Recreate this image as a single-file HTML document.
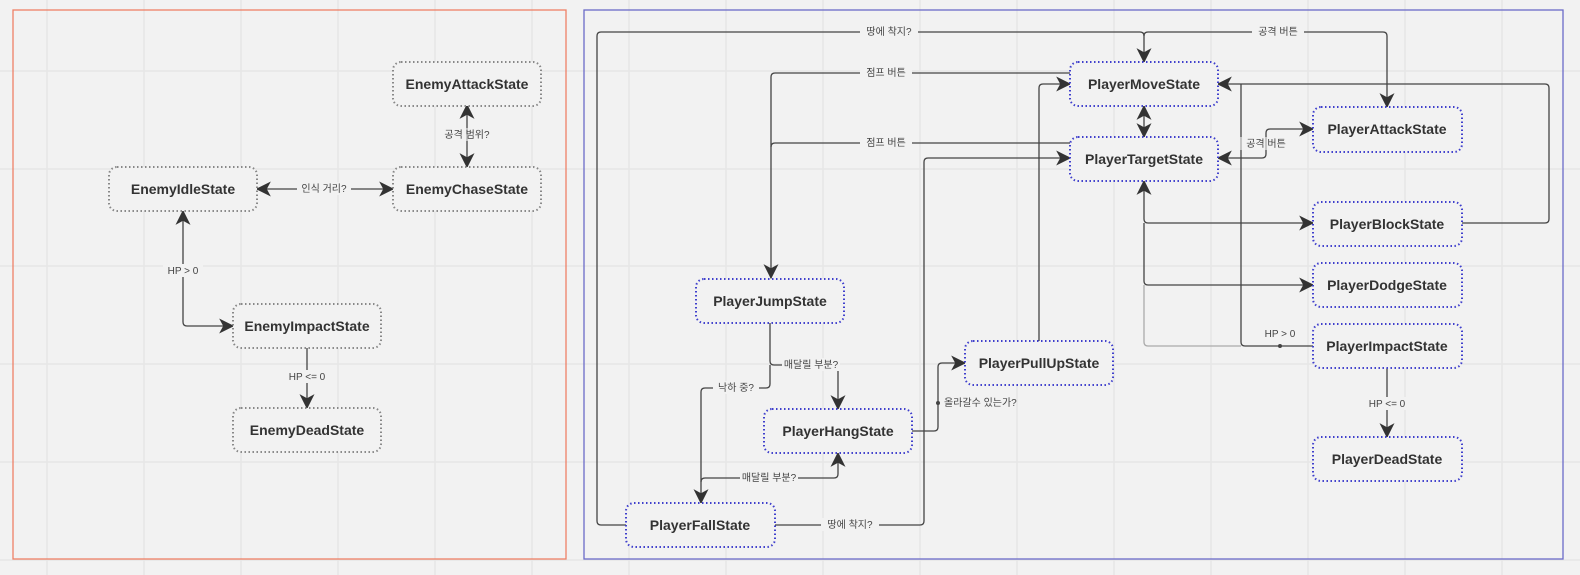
<!DOCTYPE html>
<html><head><meta charset="utf-8"><style>
html,body{margin:0;padding:0;background:#f2f2f2;}
svg{display:block;}
.n{font-family:"Liberation Sans","Noto Sans CJK KR",sans-serif;font-weight:bold;font-size:14px;fill:#333;}
.l{font-family:"Liberation Sans","Noto Sans CJK KR",sans-serif;font-size:10px;fill:#444;}
.e{fill:none;stroke:#444;stroke-width:1.3;stroke-linejoin:round;}
.pb{fill:#f2f2f2;stroke:#3f3fcc;stroke-width:2;stroke-dasharray:1.5 2.5;}
.eb{fill:#f2f2f2;stroke:#888;stroke-width:2;stroke-dasharray:1.5 2.5;}
</style></head><body>
<svg width="1580" height="575" viewBox="0 0 1580 575" xmlns="http://www.w3.org/2000/svg">
<defs>
<marker id="a" markerUnits="userSpaceOnUse" markerWidth="15" markerHeight="15" refX="12" refY="6.5" orient="auto-start-reverse" viewBox="0 0 13 13">
<path d="M0,0 L13,6.5 L0,13 L3.5,6.5 z" fill="#333"/></marker>
</defs>
<rect width="1580" height="575" fill="#f2f2f2"/>
<g stroke="#e6e6e6" stroke-width="1.5">
<line x1="47" y1="0" x2="47" y2="575"/><line x1="144" y1="0" x2="144" y2="575"/><line x1="241" y1="0" x2="241" y2="575"/><line x1="338" y1="0" x2="338" y2="575"/><line x1="435" y1="0" x2="435" y2="575"/><line x1="532" y1="0" x2="532" y2="575"/><line x1="629" y1="0" x2="629" y2="575"/><line x1="726" y1="0" x2="726" y2="575"/><line x1="823" y1="0" x2="823" y2="575"/><line x1="920" y1="0" x2="920" y2="575"/><line x1="1017" y1="0" x2="1017" y2="575"/><line x1="1114" y1="0" x2="1114" y2="575"/><line x1="1211" y1="0" x2="1211" y2="575"/><line x1="1308" y1="0" x2="1308" y2="575"/><line x1="1405" y1="0" x2="1405" y2="575"/><line x1="1502" y1="0" x2="1502" y2="575"/>
<line x1="0" y1="71" x2="1580" y2="71"/><line x1="0" y1="169" x2="1580" y2="169"/><line x1="0" y1="266" x2="1580" y2="266"/><line x1="0" y1="364" x2="1580" y2="364"/><line x1="0" y1="462" x2="1580" y2="462"/><line x1="0" y1="560" x2="1580" y2="560"/>
</g>
<rect x="13" y="10" width="553" height="549" fill="none" stroke="#ee8066" stroke-width="1.3"/>
<rect x="584" y="10" width="979" height="549" fill="none" stroke="#6b6bc8" stroke-width="1.3"/>

<path class="e" d="M626,525 H601 Q597,525 597,521 V36 Q597,32 601,32 H1140 Q1144,32 1144,36 V62" marker-end="url(#a)"/>
<path class="e" d="M1144,36 Q1144,32 1148,32 H1383 Q1387,32 1387,36 V107" marker-end="url(#a)"/>
<path class="e" d="M1070,73 H775 Q771,73 771,77 V278" marker-end="url(#a)"/>
<path class="e" d="M1070,143 H775 Q771,143 771,147"/>
<path class="e" d="M775,525 H920 Q924,525 924,521 V162 Q924,158 928,158 H1070" marker-end="url(#a)"/>
<path class="e" d="M1039,341 V88 Q1039,84 1043,84 H1070" marker-end="url(#a)"/>
<path class="e" d="M1144,106 V137" marker-start="url(#a)" marker-end="url(#a)"/>
<path class="e" d="M1218,158 H1262 Q1266,158 1266,154 V133 Q1266,129 1270,129 H1313" marker-start="url(#a)" marker-end="url(#a)"/>
<path class="e" d="M1462,223 H1545 Q1549,223 1549,219 V88 Q1549,84 1545,84 H1218" marker-end="url(#a)"/>
<path class="e" d="M1144,181 V219 Q1144,223 1148,223 H1313" marker-start="url(#a)" marker-end="url(#a)"/>
<path class="e" d="M1144,223 V281 Q1144,285 1148,285 H1313" marker-end="url(#a)"/>
<path class="e" d="M1241,346 H1148 Q1144,346 1144,342 V285" style="stroke:#aaa"/>
<path class="e" d="M1313,346 H1245 Q1241,346 1241,342 V84"/>
<circle cx="1280" cy="346" r="2" fill="#444"/>
<path class="e" d="M1387,368 V437" marker-end="url(#a)"/>
<path class="e" d="M770,323 V361 Q770,365 774,365 H834 Q838,365 838,369 V409" marker-end="url(#a)"/>
<path class="e" d="M770,365 V384 Q770,388 766,388 H705 Q701,388 701,392 V503" marker-end="url(#a)"/>
<path class="e" d="M701,482 Q701,478 705,478 H834 Q838,478 838,474 V453" marker-end="url(#a)"/>
<path class="e" d="M912,431 H934 Q938,431 938,427 V367 Q938,363 942,363 H965" marker-end="url(#a)"/>
<circle cx="938" cy="403" r="2" fill="#444"/>

<path class="e" d="M257,189 H393" marker-start="url(#a)" marker-end="url(#a)"/>
<path class="e" d="M467,105 V167" marker-start="url(#a)" marker-end="url(#a)"/>
<path class="e" d="M183,211 V322 Q183,326 187,326 H233" marker-start="url(#a)" marker-end="url(#a)"/>
<path class="e" d="M307,348 V408" marker-end="url(#a)"/>

<g class="l" text-anchor="middle">
<rect x="860" y="25" width="58" height="13" fill="#f2f2f2"/><text x="889" y="35">땅에 착지?</text>
<rect x="1252" y="25" width="52" height="13" fill="#f2f2f2"/><text x="1278" y="35">공격 버튼</text>
<rect x="860" y="66" width="52" height="13" fill="#f2f2f2"/><text x="886" y="76">점프 버튼</text>
<rect x="860" y="136" width="52" height="13" fill="#f2f2f2"/><text x="886" y="146">점프 버튼</text>
<rect x="1240" y="137" width="52" height="13" fill="#f2f2f2" fill-opacity="0.6"/><text x="1266" y="147">공격 버튼</text>
<rect x="821" y="518" width="58" height="13" fill="#f2f2f2"/><text x="850" y="528">땅에 착지?</text>
<text x="1280" y="337">HP &gt; 0</text>
<rect x="1360" y="397" width="54" height="13" fill="#f2f2f2"/><text x="1387" y="407">HP &lt;= 0</text>
<rect x="782" y="358" width="58" height="13" fill="#f2f2f2"/><text x="811" y="368">매달릴 부분?</text>
<rect x="713" y="381" width="46" height="13" fill="#f2f2f2"/><text x="736" y="391">낙하 중?</text>
<rect x="740" y="471" width="58" height="13" fill="#f2f2f2"/><text x="769" y="481">매달릴 부분?</text>
<text x="944" y="406" text-anchor="start">올라갈수 있는가?</text>
<rect x="297" y="182" width="54" height="13" fill="#f2f2f2"/><text x="324" y="192">인식 거리?</text>
<rect x="440" y="128" width="54" height="13" fill="#f2f2f2" fill-opacity="0.6"/><text x="467" y="138">공격 범위?</text>
<rect x="163" y="264" width="40" height="13" fill="#f2f2f2"/><text x="183" y="274">HP &gt; 0</text>
<rect x="282" y="370" width="50" height="13" fill="#f2f2f2"/><text x="307" y="380">HP &lt;= 0</text>
</g>

<g class="n" text-anchor="middle">
<rect class="eb" x="393" y="62" width="148" height="44" rx="8"/><text x="467" y="89">EnemyAttackState</text>
<rect class="eb" x="109" y="167" width="148" height="44" rx="8"/><text x="183" y="194">EnemyIdleState</text>
<rect class="eb" x="393" y="167" width="148" height="44" rx="8"/><text x="467" y="194">EnemyChaseState</text>
<rect class="eb" x="233" y="304" width="148" height="44" rx="8"/><text x="307" y="331">EnemyImpactState</text>
<rect class="eb" x="233" y="408" width="148" height="44" rx="8"/><text x="307" y="435">EnemyDeadState</text>

<rect class="pb" x="1070" y="62" width="148" height="44" rx="8"/><text x="1144" y="89">PlayerMoveState</text>
<rect class="pb" x="1070" y="137" width="148" height="44" rx="8"/><text x="1144" y="164">PlayerTargetState</text>
<rect class="pb" x="1313" y="107" width="149" height="45" rx="8"/><text x="1387" y="134">PlayerAttackState</text>
<rect class="pb" x="1313" y="202" width="149" height="44" rx="8"/><text x="1387" y="229">PlayerBlockState</text>
<rect class="pb" x="1313" y="263" width="149" height="44" rx="8"/><text x="1387" y="290">PlayerDodgeState</text>
<rect class="pb" x="1313" y="324" width="149" height="44" rx="8"/><text x="1387" y="351">PlayerImpactState</text>
<rect class="pb" x="1313" y="437" width="149" height="44" rx="8"/><text x="1387" y="464">PlayerDeadState</text>
<rect class="pb" x="696" y="279" width="148" height="44" rx="8"/><text x="770" y="306">PlayerJumpState</text>
<rect class="pb" x="764" y="409" width="148" height="44" rx="8"/><text x="838" y="436">PlayerHangState</text>
<rect class="pb" x="965" y="341" width="148" height="44" rx="8"/><text x="1039" y="368">PlayerPullUpState</text>
<rect class="pb" x="626" y="503" width="149" height="44" rx="8"/><text x="700" y="530">PlayerFallState</text>
</g>
</svg>
</body></html>
